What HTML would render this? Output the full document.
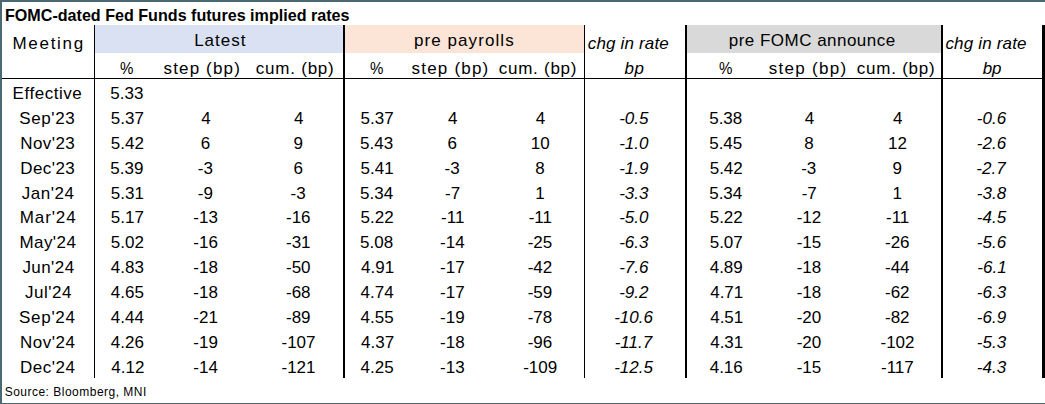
<!DOCTYPE html>
<html><head><meta charset="utf-8"><title>FOMC-dated Fed Funds futures implied rates</title>
<style>
html,body{margin:0;padding:0;background:#fff;}
body{width:1045px;height:404px;position:relative;overflow:hidden;font-family:"Liberation Sans",sans-serif;color:#000;}
.t{position:absolute;display:block;white-space:pre;font-size:17px;line-height:19px;height:19px;}
.s{font-size:12px;line-height:14px;height:14px;}
.i{font-style:italic}.b{font-weight:bold}
.f{position:absolute;}
</style></head>
<body>
<!-- outer frame -->
<div class="f" style="left:0px;top:0px;width:1045px;height:2px;background:#4b6973"></div>
<div class="f" style="left:0px;top:0px;width:2px;height:404px;background:#4b6973"></div>
<div class="f" style="left:0px;top:403px;width:1045px;height:1px;background:#4b6973"></div>
<!-- header group fills -->
<div class="f" style="left:95px;top:25px;width:248px;height:28px;background:#d9e1f2"></div>
<div class="f" style="left:345px;top:25px;width:239px;height:28px;background:#fce4d6"></div>
<div class="f" style="left:687px;top:25px;width:254px;height:28px;background:#d9d9d9"></div>
<!-- grid lines -->
<div class="f" style="left:94px;top:25px;width:1px;height:353px;background:#000"></div>
<div class="f" style="left:343px;top:25px;width:2px;height:353px;background:#000"></div>
<div class="f" style="left:584px;top:25px;width:1px;height:353px;background:#000"></div>
<div class="f" style="left:685px;top:25px;width:2px;height:353px;background:#000"></div>
<div class="f" style="left:941px;top:25px;width:2px;height:353px;background:#000"></div>
<div class="f" style="left:1042px;top:25px;width:3px;height:353px;background:#000"></div>
<div class="f" style="left:2px;top:78px;width:1043px;height:1px;background:#000"></div>
<!-- text -->
<span class="t b" style="left:5.15px;top:6px;transform:scaleX(0.9472);transform-origin:0 0;">FOMC-dated Fed Funds futures implied rates</span>
<span class="t" style="left:12.50px;top:34px;letter-spacing:1.7px;">Meeting</span>
<span class="t" style="left:194.15px;top:31px;letter-spacing:1.02px;">Latest</span>
<span class="t" style="left:413.95px;top:31px;letter-spacing:1.08px;">pre payrolls</span>
<span class="t" style="left:728.75px;top:31px;letter-spacing:0.48px;">pre FOMC announce</span>
<span class="t i" style="left:587.80px;top:34px;letter-spacing:0.16px;">chg in rate</span>
<span class="t i" style="left:945.40px;top:34px;letter-spacing:0.18px;">chg in rate</span>
<span class="t" style="left:119.61px;top:59px;transform:scaleX(0.8857);transform-origin:0 0;">%</span>
<span class="t" style="left:163.50px;top:59px;letter-spacing:1.15px;">step (bp)</span>
<span class="t" style="left:255.80px;top:59px;letter-spacing:0.77px;">cum. (bp)</span>
<span class="t" style="left:369.61px;top:59px;transform:scaleX(0.8857);transform-origin:0 0;">%</span>
<span class="t" style="left:411.60px;top:59px;letter-spacing:1.2px;">step (bp)</span>
<span class="t" style="left:498.75px;top:59px;letter-spacing:0.74px;">cum. (bp)</span>
<span class="t i" style="left:624.40px;top:59px;letter-spacing:0.6px;">bp</span>
<span class="t" style="left:718.71px;top:59px;transform:scaleX(0.8857);transform-origin:0 0;">%</span>
<span class="t" style="left:768.80px;top:59px;letter-spacing:1.27px;">step (bp)</span>
<span class="t" style="left:856.65px;top:59px;letter-spacing:0.79px;">cum. (bp)</span>
<span class="t i" style="left:982.70px;top:59px;letter-spacing:-0.2px;">bp</span>
<span class="t s" style="left:4.65px;top:385px;letter-spacing:0.49px;">Source: Bloomberg, MNI</span>
<span class="t" style="left:12.55px;top:84px;letter-spacing:0.54px;">Effective</span>
<span class="t" style="left:19.30px;top:109px;letter-spacing:0.6px;">Sep'23</span>
<span class="t" style="left:20.15px;top:134px;letter-spacing:0.46px;">Nov'23</span>
<span class="t" style="left:20.15px;top:159px;letter-spacing:0.46px;">Dec'23</span>
<span class="t" style="left:21.65px;top:184px;letter-spacing:0.54px;">Jan'24</span>
<span class="t" style="left:19.75px;top:208px;letter-spacing:0.9px;">Mar'24</span>
<span class="t" style="left:19.40px;top:233px;letter-spacing:0.44px;">May'24</span>
<span class="t" style="left:22.40px;top:258px;letter-spacing:0.44px;">Jun'24</span>
<span class="t" style="left:25.05px;top:283px;letter-spacing:0.5px;">Jul'24</span>
<span class="t" style="left:19.05px;top:308px;letter-spacing:0.7px;">Sep'24</span>
<span class="t" style="left:19.90px;top:333px;letter-spacing:0.56px;">Nov'24</span>
<span class="t" style="left:19.90px;top:358px;letter-spacing:0.56px;">Dec'24</span>
<span class="t" style="left:110.30px;top:84px;">5.33</span>
<span class="t" style="left:110.80px;top:109px;">5.37</span>
<span class="t" style="left:201.30px;top:109px;">4</span>
<span class="t" style="left:294.00px;top:109px;">4</span>
<span class="t" style="left:360.60px;top:109px;">5.37</span>
<span class="t" style="left:448.10px;top:109px;">4</span>
<span class="t" style="left:535.70px;top:109px;">4</span>
<span class="t i" style="left:619.20px;top:109px;">-0.5</span>
<span class="t" style="left:709.20px;top:109px;">5.38</span>
<span class="t" style="left:804.70px;top:109px;">4</span>
<span class="t" style="left:893.00px;top:109px;">4</span>
<span class="t i" style="left:976.80px;top:109px;">-0.6</span>
<span class="t" style="left:110.80px;top:134px;">5.42</span>
<span class="t" style="left:200.80px;top:134px;">6</span>
<span class="t" style="left:293.50px;top:134px;">9</span>
<span class="t" style="left:360.10px;top:134px;">5.43</span>
<span class="t" style="left:447.60px;top:134px;">6</span>
<span class="t" style="left:530.70px;top:134px;">10</span>
<span class="t i" style="left:619.20px;top:134px;">-1.0</span>
<span class="t" style="left:709.20px;top:134px;">5.45</span>
<span class="t" style="left:804.20px;top:134px;">8</span>
<span class="t" style="left:888.00px;top:134px;">12</span>
<span class="t i" style="left:976.80px;top:134px;">-2.6</span>
<span class="t" style="left:110.30px;top:159px;">5.39</span>
<span class="t" style="left:197.80px;top:159px;">-3</span>
<span class="t" style="left:293.50px;top:159px;">6</span>
<span class="t" style="left:360.60px;top:159px;">5.41</span>
<span class="t" style="left:444.60px;top:159px;">-3</span>
<span class="t" style="left:535.20px;top:159px;">8</span>
<span class="t i" style="left:619.20px;top:159px;">-1.9</span>
<span class="t" style="left:709.70px;top:159px;">5.42</span>
<span class="t" style="left:801.20px;top:159px;">-3</span>
<span class="t" style="left:892.50px;top:159px;">9</span>
<span class="t i" style="left:976.30px;top:159px;">-2.7</span>
<span class="t" style="left:110.80px;top:184px;">5.31</span>
<span class="t" style="left:197.80px;top:184px;">-9</span>
<span class="t" style="left:290.50px;top:184px;">-3</span>
<span class="t" style="left:360.10px;top:184px;">5.34</span>
<span class="t" style="left:445.10px;top:184px;">-7</span>
<span class="t" style="left:535.20px;top:184px;">1</span>
<span class="t i" style="left:619.20px;top:184px;">-3.3</span>
<span class="t" style="left:709.20px;top:184px;">5.34</span>
<span class="t" style="left:801.70px;top:184px;">-7</span>
<span class="t" style="left:892.50px;top:184px;">1</span>
<span class="t i" style="left:976.80px;top:184px;">-3.8</span>
<span class="t" style="left:110.80px;top:208px;">5.17</span>
<span class="t" style="left:193.30px;top:208px;">-13</span>
<span class="t" style="left:286.00px;top:208px;">-16</span>
<span class="t" style="left:360.60px;top:208px;">5.22</span>
<span class="t" style="left:441.10px;top:208px;">-11</span>
<span class="t" style="left:528.70px;top:208px;">-11</span>
<span class="t i" style="left:619.20px;top:208px;">-5.0</span>
<span class="t" style="left:709.70px;top:208px;">5.22</span>
<span class="t" style="left:796.70px;top:208px;">-12</span>
<span class="t" style="left:886.00px;top:208px;">-11</span>
<span class="t i" style="left:976.80px;top:208px;">-4.5</span>
<span class="t" style="left:110.80px;top:233px;">5.02</span>
<span class="t" style="left:193.30px;top:233px;">-16</span>
<span class="t" style="left:286.00px;top:233px;">-31</span>
<span class="t" style="left:360.10px;top:233px;">5.08</span>
<span class="t" style="left:440.10px;top:233px;">-14</span>
<span class="t" style="left:527.70px;top:233px;">-25</span>
<span class="t i" style="left:619.20px;top:233px;">-6.3</span>
<span class="t" style="left:709.70px;top:233px;">5.07</span>
<span class="t" style="left:796.70px;top:233px;">-15</span>
<span class="t" style="left:885.00px;top:233px;">-26</span>
<span class="t i" style="left:976.80px;top:233px;">-5.6</span>
<span class="t" style="left:110.80px;top:258px;">4.83</span>
<span class="t" style="left:193.30px;top:258px;">-18</span>
<span class="t" style="left:286.00px;top:258px;">-50</span>
<span class="t" style="left:361.10px;top:258px;">4.91</span>
<span class="t" style="left:440.10px;top:258px;">-17</span>
<span class="t" style="left:527.70px;top:258px;">-42</span>
<span class="t i" style="left:619.20px;top:258px;">-7.6</span>
<span class="t" style="left:709.70px;top:258px;">4.89</span>
<span class="t" style="left:796.70px;top:258px;">-18</span>
<span class="t" style="left:885.00px;top:258px;">-44</span>
<span class="t i" style="left:977.30px;top:258px;">-6.1</span>
<span class="t" style="left:110.80px;top:283px;">4.65</span>
<span class="t" style="left:193.30px;top:283px;">-18</span>
<span class="t" style="left:286.00px;top:283px;">-68</span>
<span class="t" style="left:360.60px;top:283px;">4.74</span>
<span class="t" style="left:440.10px;top:283px;">-17</span>
<span class="t" style="left:527.70px;top:283px;">-59</span>
<span class="t i" style="left:619.20px;top:283px;">-9.2</span>
<span class="t" style="left:710.20px;top:283px;">4.71</span>
<span class="t" style="left:796.70px;top:283px;">-18</span>
<span class="t" style="left:885.00px;top:283px;">-62</span>
<span class="t i" style="left:976.80px;top:283px;">-6.3</span>
<span class="t" style="left:110.80px;top:308px;">4.44</span>
<span class="t" style="left:193.30px;top:308px;">-21</span>
<span class="t" style="left:286.00px;top:308px;">-89</span>
<span class="t" style="left:360.60px;top:308px;">4.55</span>
<span class="t" style="left:440.10px;top:308px;">-19</span>
<span class="t" style="left:527.70px;top:308px;">-78</span>
<span class="t i" style="left:614.20px;top:308px;">-10.6</span>
<span class="t" style="left:710.20px;top:308px;">4.51</span>
<span class="t" style="left:796.70px;top:308px;">-20</span>
<span class="t" style="left:885.00px;top:308px;">-82</span>
<span class="t i" style="left:976.80px;top:308px;">-6.9</span>
<span class="t" style="left:110.80px;top:333px;">4.26</span>
<span class="t" style="left:193.30px;top:333px;">-19</span>
<span class="t" style="left:281.50px;top:333px;">-107</span>
<span class="t" style="left:361.10px;top:333px;">4.37</span>
<span class="t" style="left:440.10px;top:333px;">-18</span>
<span class="t" style="left:527.70px;top:333px;">-96</span>
<span class="t i" style="left:614.70px;top:333px;">-11.7</span>
<span class="t" style="left:710.20px;top:333px;">4.31</span>
<span class="t" style="left:796.70px;top:333px;">-20</span>
<span class="t" style="left:880.50px;top:333px;">-102</span>
<span class="t i" style="left:976.80px;top:333px;">-5.3</span>
<span class="t" style="left:111.30px;top:358px;">4.12</span>
<span class="t" style="left:193.30px;top:358px;">-14</span>
<span class="t" style="left:281.50px;top:358px;">-121</span>
<span class="t" style="left:360.60px;top:358px;">4.25</span>
<span class="t" style="left:440.10px;top:358px;">-13</span>
<span class="t" style="left:523.20px;top:358px;">-109</span>
<span class="t i" style="left:614.20px;top:358px;">-12.5</span>
<span class="t" style="left:709.70px;top:358px;">4.16</span>
<span class="t" style="left:796.70px;top:358px;">-15</span>
<span class="t" style="left:881.00px;top:358px;">-117</span>
<span class="t i" style="left:976.80px;top:358px;">-4.3</span>
</body></html>
